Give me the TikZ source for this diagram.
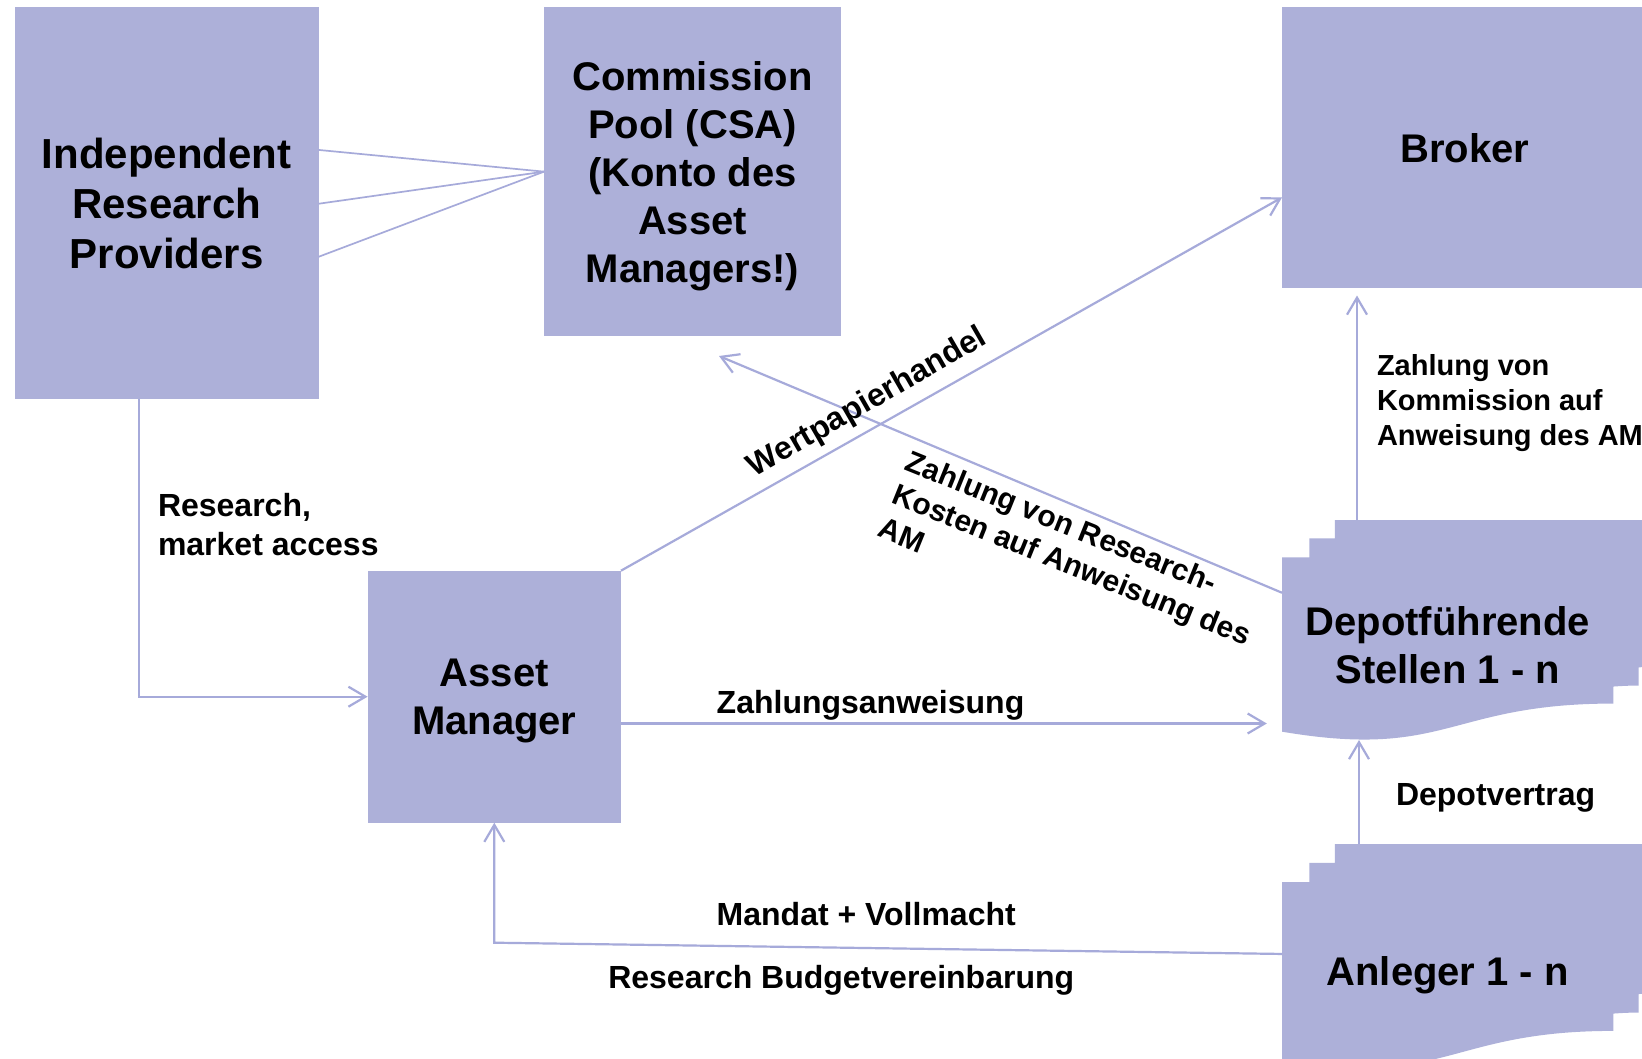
\documentclass[tikz,border=0pt]{standalone}
\usepackage{fontspec}
\setmainfont{Liberation Sans}
\usetikzlibrary{arrows.meta}

\definecolor{boxfill}{RGB}{173,176,217}
\definecolor{linkcol}{RGB}{166,170,218}

\newcommand\bxfont{\fontsize{20}{24}\selectfont\bfseries}
\newcommand\irpfont{\fontsize{21}{25}\selectfont\bfseries}
\newcommand\lbfont{\fontsize{16}{19.5}\selectfont\bfseries}
\newcommand\kmfont{\fontsize{14.5}{17.5}\selectfont\bfseries}
\newcommand\rkfont{\fontsize{15}{18}\selectfont\bfseries}
\newcommand\wpfont{\fontsize{16}{18}\selectfont\bfseries}

% stacked-documents outline, in percent of its own width/height
\newcommand\mdoc{\fill[boxfill] (0,96.213) -- (0,17.014) -- (7.093,17.014) -- (7.093,8.403)
  -- (13.759,8.403) -- (13.759,0) -- (100,0) -- (100,66.630)
  .. controls (96.296,66.630) and (92.593,66.977) .. (92.593,66.977) -- (92.593,75.241)
  .. controls (89.343,75.241) and (86.088,75.704) .. (86.088,75.704) -- (86.088,83.435)
  .. controls (43.046,83.435) and (43.046,108.991) .. (0,96.213) -- cycle;}

\begin{document}
\begin{tikzpicture}[x=0.5pt, y=-0.5pt,
  box/.style={fill=boxfill, inner sep=0pt, outer sep=0pt, align=center, text depth=0pt, font=\bxfont},
  lbl/.style={inner sep=0pt, outer sep=0pt, align=left, text depth=0pt, font=\lbfont},
  link/.style={draw=linkcol, line width=1.1pt},
  fan/.style={draw=linkcol, line width=0.85pt},
  arr/.style={link, -{Straight Barb[length=8.5pt,width=10pt]}}]

\useasboundingbox (0,0) rectangle (1642,1059);
\fill[white] (0,0) rectangle (1642,1059);

% custody banks and investors (stacked documents)
\begin{scope}[shift={(1282,520)}, x=1.925pt, y=-1.1pt]
  \mdoc
\end{scope}
\begin{scope}[shift={(1282,844)}, x=1.925pt, y=-1.12pt]
  \mdoc
\end{scope}

% boxes
\node[box, font=\irpfont, minimum width=152pt, minimum height=195.85pt] (irp) at (166.7,203.15) {Independent\\Research\\Providers};
\node[box, minimum width=148.5pt, minimum height=164.35pt] (cp) at (692.5,171.65) {Commission\\Pool (CSA)\\(Konto des\\Asset\\Managers!)};
\node[box, minimum width=126.7pt, minimum height=126pt] (am) at (494.3,696.7) {Asset\\Manager};
\node[box, minimum width=183pt, minimum height=140.35pt] (broker) at (1465,147.65) {Broker};
\node[box, fill=none, minimum width=165.7pt, minimum height=87.15pt] (depot) at (1447.7,644.55) {Depotführende\\Stellen 1 - n};
\node[box, fill=none, minimum width=165.7pt, minimum height=88.75pt] (anleger) at (1447.7,970.75) {Anleger 1 - n};

% connector end points
\coordinate (cpin) at ([xshift=13.25pt, yshift=-10pt]cp.south);
\coordinate (deptop) at ([xshift=37.5pt, yshift=18.7pt]depot.north west);
\coordinate (depbot) at ([yshift=-4.15pt]depot.south);
\coordinate (anltop) at ([xshift=38.5pt, yshift=19pt]anleger.north west);
\coordinate (mcorner) at ([yshift=-60pt]am.south);
\coordinate (zstart) at ([yshift=-13.4pt]am.east);

% connectors
\draw[fan] ([yshift=26.6pt]irp.east) -- (cp.west);
\draw[fan] ([yshift=-0.3pt]irp.east) -- (cp.west);
\draw[fan] ([yshift=-26.8pt]irp.east) -- (cp.west);
\draw[arr] ([xshift=-13.85pt]irp.south) |- (am.west);
\draw[arr] (am.north east) -- ([yshift=-24.9pt]broker.west);
\draw[arr] ([yshift=25.9pt]depot.west) -- (cpin);
\draw[arr, shorten >=7.6pt] (zstart) -- (zstart -| depot.west);
\draw[arr, shorten >=3.75pt] (deptop) -- (deptop |- broker.south);
\draw[arr] (anltop) -- (anltop |- depbot);
\draw[arr] ([yshift=8.4pt]anleger.west) -- (mcorner) -- (am.south);

% labels
\node[lbl, anchor=south west] (lresearch) at (158,555) {Research,\\market access};
\node[lbl, anchor=base west] (lzahl) at (716.7,713) {Zahlungsanweisung};
\node[lbl, anchor=base west] (lmandat) at (716.7,925) {Mandat + Vollmacht};
\node[lbl, anchor=base west] (lbudget) at (608.3,988) {Research Budgetvereinbarung};
\node[lbl, anchor=base west] (ldepv) at (1396,805) {Depotvertrag};
\node[lbl, anchor=south west, font=\kmfont] (lkomm) at (1377,445) {Zahlung von\\Kommission auf\\Anweisung des AM};
\node[lbl, font=\wpfont, rotate=29.9] (lwp) at (866,400) {Wertpapierhandel};
\node[lbl, font=\rkfont, rotate=-22, anchor=north west] (lrk) at (912,449) {Zahlung von Research-\\Kosten auf Anweisung des\\AM};

\end{tikzpicture}
\end{document}
